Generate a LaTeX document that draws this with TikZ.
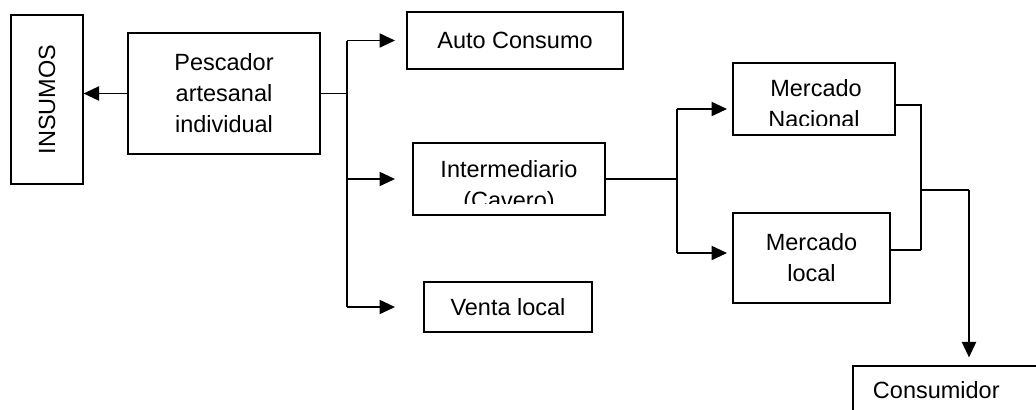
\documentclass[tikz,border=0pt]{standalone}
\usepackage{fontspec}
\setmainfont{Liberation Sans}
\usepackage{graphicx}
\usetikzlibrary{arrows.meta}

\begin{document}
\begin{tikzpicture}[
    x=0.025cm, y=-0.025cm,
    font=\fontsize{16.7}{22}\selectfont,
    box/.style={draw, line width=0.8pt, inner sep=0pt, align=center},
    txt/.style={inner sep=0pt},
    line/.style={line width=1pt},
    arr/.style={-{Triangle[length=11pt, width=10pt]}, line width=1.4pt}
  ]
  \useasboundingbox (0,0) rectangle (1036,409);
  % boxes
  \node[box, minimum width=1.8cm, minimum height=4.225cm] (insumos) at (47,99.5) {\rotatebox{90}{INSUMOS}};
  \node[box, minimum width=4.8cm, minimum height=3.025cm] (pescador) at (224,93.5) {Pescador\\artesanal\\individual};
  \node[box, minimum width=5.4cm, minimum height=1.425cm] (auto) at (515,40.5) {Auto Consumo};
  \node[box, minimum width=4.8cm, minimum height=1.8cm] (inter) at (509,179) {};
  \node[box, minimum width=4.2cm, minimum height=1.25cm] (venta) at (508,307) {Venta local};
  \node[box, minimum width=4.05cm, minimum height=1.8cm] (nacional) at (814,99) {};
  \node[box, minimum width=3.925cm, minimum height=2.25cm] (local) at (811.5,258) {Mercado\\local};
  \node[box, minimum width=4.8cm, minimum height=1.2cm, text width=3.8cm, align=left] (consumidor) at (949,390) {Consumidor};
  % texts cut off at the bottom of their boxes
  \node[txt, anchor=base] (intera) at (509,177) {Intermediario};
  \node[txt, anchor=base] (naca) at (816,96) {Mercado};
  \begin{scope}
    \clip (inter.north west) rectangle ([yshift=0.3cm]inter.south east);
    \node[txt, anchor=base] (interb) at (509,208) {(Cavero)};
  \end{scope}
  \begin{scope}
    \clip (nacional.north west) rectangle ([yshift=0.25cm]nacional.south east);
    \node[txt, anchor=base] (nacb) at (814,127) {Nacional};
  \end{scope}
  % first split
  \coordinate (bus1) at (347,0);
  \coordinate (tip1) at (395,0);
  \draw[arr] (pescador.west) -- (pescador.west -| insumos.east);
  \draw[line] (pescador.east) -- (pescador.east -| bus1);
  \draw[line] (bus1 |- auto) -- (bus1 |- venta);
  \foreach \n in {auto, inter, venta}
    \draw[arr] (bus1 |- \n) -- (tip1 |- \n);
  % second split
  \coordinate (bus2a) at (677,109);
  \coordinate (bus2b) at (677,253);
  \coordinate (tip2) at (727,0);
  \draw[line] (inter.east) -- (inter.east -| bus2a);
  \draw[line] (bus2a) -- (bus2b);
  \draw[arr] (bus2a) -- (tip2 |- bus2a);
  \draw[arr] (bus2b) -- (tip2 |- bus2b);
  % markets to consumer
  \coordinate (bus3a) at (921,105);
  \coordinate (bus3b) at (921,250);
  \coordinate (join) at (921,190);
  \coordinate (drop) at (969,190);
  \draw[line] (nacional.east |- bus3a) -- (bus3a) -- (bus3b);
  \draw[line] (local.east |- bus3b) -- (bus3b);
  \draw[line] (join) -- (drop);
  \draw[arr, shorten >=0.2cm] (drop) -- (drop |- consumidor.north);
\end{tikzpicture}
\end{document}
